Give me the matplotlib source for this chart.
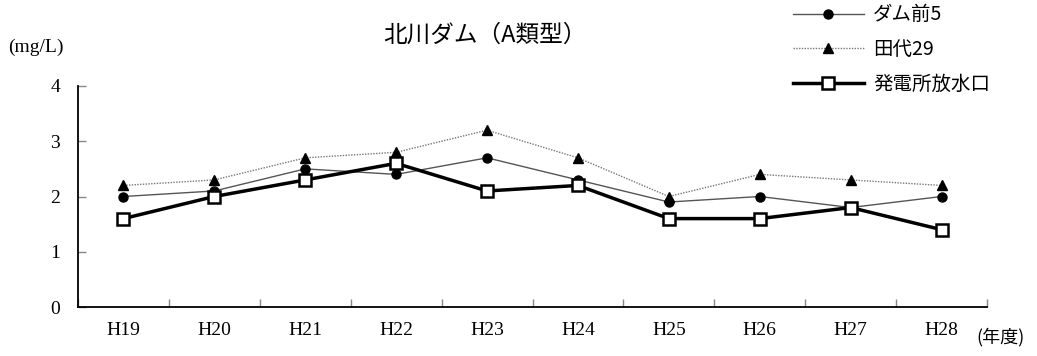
import matplotlib
matplotlib.use("Agg")
import matplotlib.pyplot as plt
import numpy as np

categories = ["H19", "H20", "H21", "H22", "H23", "H24", "H25", "H26", "H27", "H28"]
dam5 = [2.0, 2.1, 2.5, 2.4, 2.7, 2.3, 1.9, 2.0, 1.8, 2.0]
tashiro29 = [2.2, 2.3, 2.7, 2.8, 3.2, 2.7, 2.0, 2.4, 2.3, 2.2]
outlet = [1.6, 2.0, 2.3, 2.6, 2.1, 2.2, 1.6, 1.6, 1.8, 1.4]
yticks = [0, 1, 2, 3, 4]

cjk = ["Noto Sans CJK JP", "DejaVu Sans"]
serif = ["Liberation Serif", "Noto Sans CJK JP"]

fig = plt.figure(figsize=(10.37, 3.56), dpi=100)
ax = fig.add_axes([78/1037, 1-307/356, (987-78)/1037, (307-86)/356])

x = np.arange(len(categories))
l1, = ax.plot(x, dam5, color="#555555", lw=1.0, marker="o", ms=6.5,
              mfc="black", mec="black", label="ダム前5")
l2, = ax.plot(x, tashiro29, color="#777777", lw=1.0, ls=(0, (1, 1)), marker="^", ms=6.5,
              mfc="black", mec="black", label="田代29")
l3, = ax.plot(x, outlet, color="black", lw=2.5, marker="s", ms=8,
              mfc="white", mec="black", mew=1.8, label="発電所放水口")

ax.set_xlim(-0.5, len(categories) - 0.5)
ax.set_ylim(0, 4)
ax.set_yticks(yticks)
ax.set_yticklabels([str(v) for v in yticks], family=serif, fontsize=14)
ax.set_xticks(x)
ax.set_xticklabels(categories, family=serif, fontsize=14)
ax.set_xticks(np.arange(-0.5, len(categories)), minor=True)
ax.tick_params(axis="x", which="major", length=0, pad=11)
ax.tick_params(axis="x", which="minor", direction="in", length=6, color="#888888", width=1)
ax.tick_params(axis="y", direction="in", length=6, color="#888888", width=1, pad=13)

for s in ["top", "right"]:
    ax.spines[s].set_visible(False)
ax.spines["left"].set_linewidth(1.3)
ax.spines["bottom"].set_linewidth(1.3)

fig.text(485/1037, 1-35/356, "北川ダム（A類型）", ha="center", va="center",
         family=cjk, fontsize=17)
fig.text(8/1037, 1-47/356, "(mg/L)", ha="left", va="center", family=serif, fontsize=14)
fig.text(976/1037, 1-337/356, "(年度)", ha="left", va="center", family=cjk, fontsize=13)

leg = fig.legend(handles=[l1, l2, l3], loc="upper left",
                 bbox_to_anchor=(775/1037, 1.037), frameon=False,
                 prop={"family": cjk, "size": 14}, handlelength=3.7,
                 labelspacing=0.7, handletextpad=0.45)

fig.savefig("out.png", dpi=100)
